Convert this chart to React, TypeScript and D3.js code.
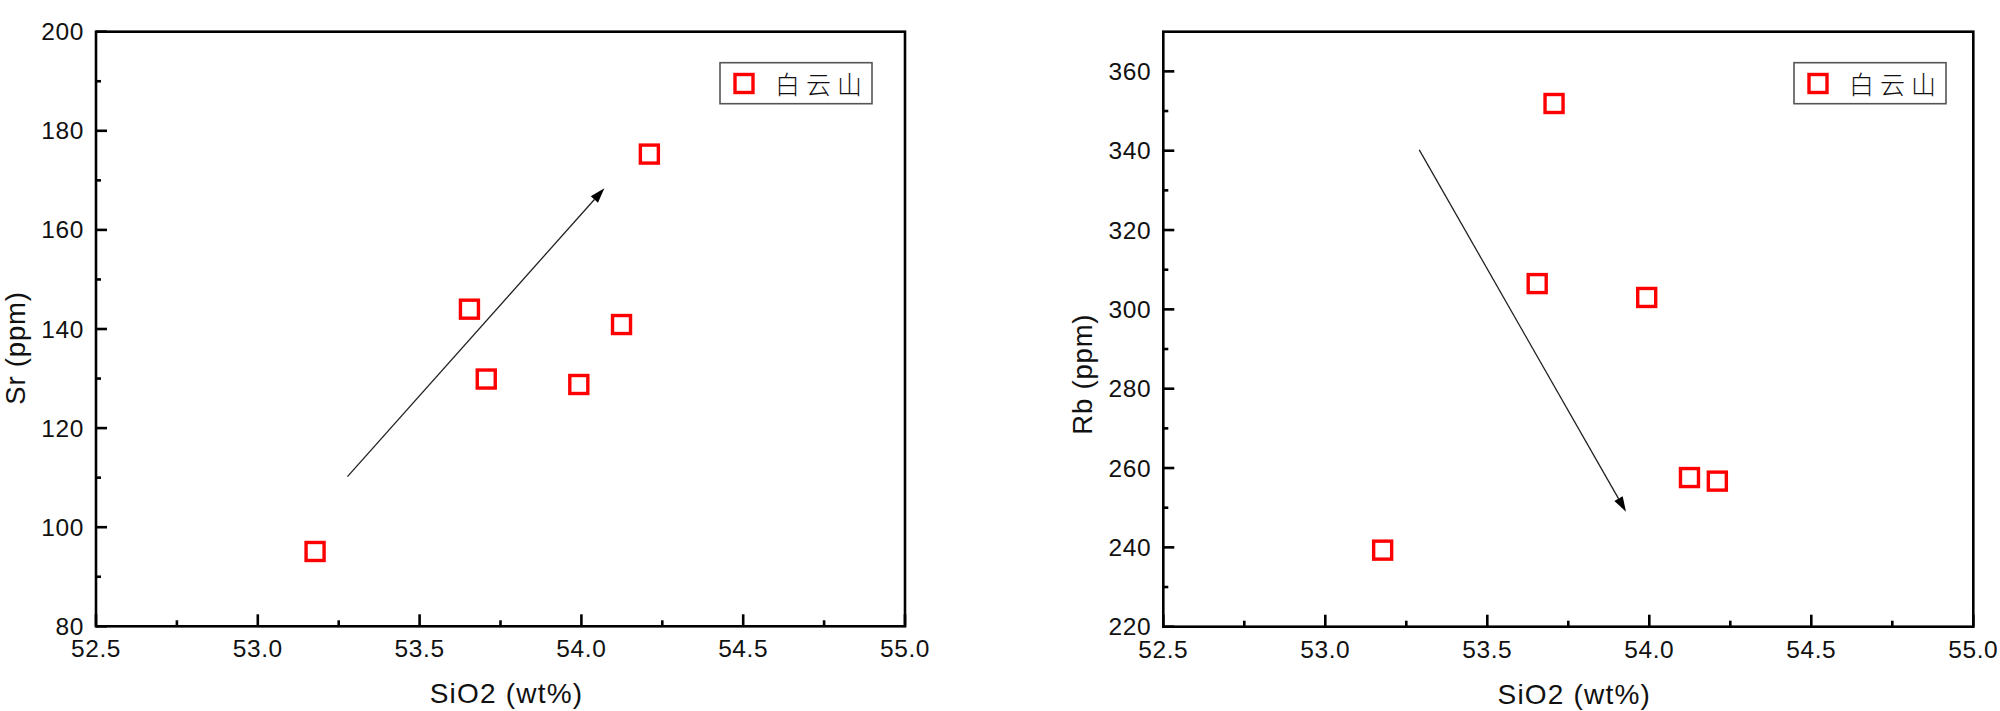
import React from "react";
import * as d3 from "d3";

// ---- data ----
const SIO2 = [53.177, 53.654, 53.706, 53.992, 54.124, 54.21];
const SR = [95.1, 144.0, 129.9, 128.8, 140.9, 175.3];
const RB = [239.3, 306.5, 351.9, 303.0, 257.6, 256.7];

const X_TICKS = [52.5, 53.0, 53.5, 54.0, 54.5, 55.0];
const X_MINOR = [52.75, 53.25, 53.75, 54.25, 54.75];
const SR_TICKS = [80, 100, 120, 140, 160, 180, 200];
const SR_MINOR = [90, 110, 130, 150, 170, 190];
const RB_TICKS = [220, 240, 260, 280, 300, 320, 340, 360];
const RB_MINOR = [230, 250, 270, 290, 310, 330, 350];

const SR_ARROW: [number, number][] = [[53.277, 110.2], [54.071, 168.4]];
const RB_ARROW: [number, number][] = [[53.29, 340.2], [53.928, 249.0]];

const LEGEND_LABEL = "白云山";
const X_TITLE = "SiO2 (wt%)";

const FONT = "'Liberation Sans', Arial, Helvetica, sans-serif";
const CJK = "'Noto Sans CJK SC', 'Noto Sans CJK JP', sans-serif";

type PanelProps = {
  left: number;
  right: number;
  top: number;
  bottom: number;
  yDomain: [number, number];
  yTicks: number[];
  yMinor: number[];
  yValues: number[];
  yTitle: string;
  yTitleOffset: number;
  arrow: [number, number][];
  legendX: number;
};

function Panel(p: PanelProps) {
  const x = d3.scaleLinear().domain([52.5, 55.0]).range([p.left, p.right]);
  const y = d3.scaleLinear().domain(p.yDomain).range([p.bottom, p.top]);
  const sw = 2.6;
  const [a0, a1] = p.arrow;
  const x0 = x(a0[0]), y0 = y(a0[1]), x1 = x(a1[0]), y1 = y(a1[1]);
  const ang = Math.atan2(y1 - y0, x1 - x0);
  const hl = 15, hw = 4.8;
  const bx = x1 - hl * Math.cos(ang), by = y1 - hl * Math.sin(ang);
  const px = -Math.sin(ang) * hw, py = Math.cos(ang) * hw;
  const ms = 18;
  const cx = (p.left + p.right) / 2;
  const cy = (p.top + p.bottom) / 2;
  return (
    <g>
      {/* frame */}
      <rect x={p.left} y={p.top} width={p.right - p.left} height={p.bottom - p.top}
        fill="none" stroke="#000" strokeWidth={sw} />
      {/* x ticks */}
      {X_TICKS.map((t) => (
        <g key={"xt" + t}>
          <line x1={x(t)} x2={x(t)} y1={p.bottom} y2={p.bottom - 12} stroke="#000" strokeWidth={sw} />
          <text x={x(t)} y={p.bottom + 31} textAnchor="middle" fontFamily={FONT} fontSize={24.5}
            letterSpacing={0.6} fill="#111">{t.toFixed(1)}</text>
        </g>
      ))}
      {X_MINOR.map((t) => (
        <line key={"xm" + t} x1={x(t)} x2={x(t)} y1={p.bottom} y2={p.bottom - 6} stroke="#000" strokeWidth={sw} />
      ))}
      {/* y ticks */}
      {p.yTicks.map((t) => (
        <g key={"yt" + t}>
          <line x1={p.left} x2={p.left + 11} y1={y(t)} y2={y(t)} stroke="#000" strokeWidth={sw} />
          <text x={p.left - 12} y={y(t) + 8.5} textAnchor="end" fontFamily={FONT} fontSize={24.5}
            letterSpacing={0.6} fill="#111">{t}</text>
        </g>
      ))}
      {p.yMinor.map((t) => (
        <line key={"ym" + t} x1={p.left} x2={p.left + 5} y1={y(t)} y2={y(t)} stroke="#000" strokeWidth={sw} />
      ))}
      {/* axis titles */}
      <text x={cx + 6} y={p.bottom + 77} textAnchor="middle" fontFamily={FONT} fontSize={28}
        letterSpacing={1.2} fill="#111">{X_TITLE}</text>
      <text transform={`translate(${p.left - 71},${cy + p.yTitleOffset}) rotate(-90)`} textAnchor="middle"
        fontFamily={FONT} fontSize={27.5} letterSpacing={0.8} fill="#111">{p.yTitle}</text>
      {/* arrow */}
      <line x1={x0} y1={y0} x2={bx} y2={by} stroke="#222" strokeWidth={1.3} />
      <polygon points={`${x1},${y1} ${bx + px},${by + py} ${bx - px},${by - py}`} fill="#000" />
      {/* points */}
      {SIO2.map((v, i) => (
        <rect key={"pt" + i} x={x(v) - ms / 2} y={y(p.yValues[i]) - ms / 2} width={ms} height={ms}
          fill="none" stroke="#f00" strokeWidth={3.4} />
      ))}
      {/* legend */}
      <rect x={p.legendX} y={62.7} width={152} height={41} fill="#fff" stroke="#555" strokeWidth={1.6} />
      <rect x={p.legendX + 15} y={74.5} width={ms} height={ms} fill="none" stroke="#f00" strokeWidth={3.4} />
      <text x={p.legendX + 55} y={94} fontFamily={CJK} fontWeight={300} fontSize={25} letterSpacing={6}
        fill="#111">{LEGEND_LABEL}</text>
    </g>
  );
}

export default function App() {
  return (
    <svg width={2000} height={711} style={{ position: "absolute", left: 0, top: 0, background: "#fff" }}>
      <rect x={0} y={0} width={2000} height={711} fill="#fff" />
      <Panel left={96} right={905} top={31.7} bottom={626.3} yDomain={[80, 200]}
        yTicks={SR_TICKS} yMinor={SR_MINOR} yValues={SR} yTitle="Sr (ppm)" yTitleOffset={19}
        arrow={SR_ARROW} legendX={720} />
      <Panel left={1163.3} right={1973.3} top={31.7} bottom={626.7} yDomain={[220, 370]}
        yTicks={RB_TICKS} yMinor={RB_MINOR} yValues={RB} yTitle="Rb (ppm)" yTitleOffset={45}
        arrow={RB_ARROW} legendX={1794} />
    </svg>
  );
}
